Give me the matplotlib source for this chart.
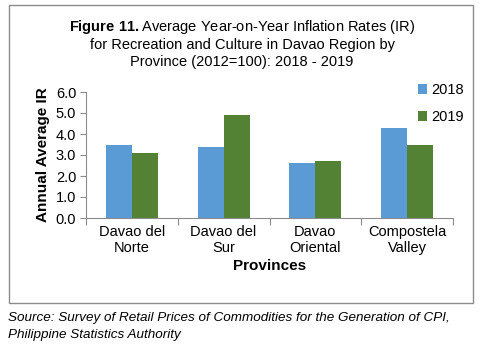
import numpy as np
import matplotlib
matplotlib.use("Agg")
import matplotlib.pyplot as plt
from matplotlib.patches import Rectangle

provinces = ["Davao del\nNorte", "Davao del\nSur", "Davao\nOriental", "Compostela\nValley"]
ir_2018 = [3.5, 3.4, 2.6, 4.3]
ir_2019 = [3.1, 4.9, 2.7, 3.5]
yticks = [0.0, 1.0, 2.0, 3.0, 4.0, 5.0, 6.0]

plt.rcParams['font.family'] = ['Liberation Sans', 'DejaVu Sans']
plt.rcParams['mathtext.fontset'] = 'custom'
plt.rcParams['mathtext.bf'] = 'Liberation Sans:bold'
plt.rcParams['mathtext.rm'] = 'Liberation Sans'

W, H = 484, 344
fig = plt.figure(figsize=(W / 100, H / 100), dpi=100)

# outer frame around the chart
fig.patches.append(Rectangle((9 / W, 1 - 303 / H), 464 / W, 298 / H,
                             transform=fig.transFigure, fill=False,
                             edgecolor="#8c8c8c", linewidth=1.0))

# axes box in pixels: x 86..453, y 92..218
ax = fig.add_axes([86 / W, 1 - 218 / H, 367 / W, 126 / H])

x = np.arange(len(provinces))
bw = 26 / 92
ax.bar(x - bw / 2, ir_2018, bw, color="#5b9bd5", label="2018")
ax.bar(x + bw / 2, ir_2019, bw, color="#548235", label="2019")

ax.set_xlim(-0.5, len(provinces) - 0.5)
ax.set_ylim(0, 6.0)
ax.set_yticks(yticks)
ax.set_yticklabels(["%.1f" % v for v in yticks], fontsize=10.5)
ax.set_xticks(np.arange(-0.5, len(provinces), 1.0))
ax.set_xticklabels([])
ax.set_xticks(x, minor=True)
ax.set_xticklabels(provinces, minor=True, fontsize=10.5)
ax.tick_params(axis="x", which="minor", length=0, pad=5)
ax.tick_params(axis="x", which="major", length=5, color="#8c8c8c", direction="out")
ax.tick_params(axis="y", length=4, color="#8c8c8c", direction="out", pad=3)

for s in ["top", "right"]:
    ax.spines[s].set_visible(False)
for s in ["left", "bottom"]:
    ax.spines[s].set_color("#8c8c8c")

ax.set_ylabel("Annual Average IR", fontsize=11, fontweight="bold", labelpad=4)
ax.set_xlabel("Provinces", fontsize=11, fontweight="bold", labelpad=3)

ax.legend(loc="upper left", bbox_to_anchor=(405 / W, 1 - 70 / H),
          bbox_transform=fig.transFigure, frameon=False, fontsize=10.5,
          handlelength=0.6, handleheight=0.6, handletextpad=0.3,
          labelspacing=0.9)

fig.text(0.5, 1 - 27 / H, r"$\bf{Figure\ 11.}$Average Year-on-Year Inflation Rates (IR)",
         ha="center", va="center", fontsize=10.5)
fig.text(0.5, 1 - 45 / H, "for Recreation and Culture in Davao Region by",
         ha="center", va="center", fontsize=10.5)
fig.text(0.5, 1 - 62 / H, "Province (2012=100): 2018 - 2019",
         ha="center", va="center", fontsize=10.5)

fig.text(8 / W, 1 - 318 / H,
         "Source: Survey of Retail Prices of Commodities for the Generation of CPI,",
         ha="left", va="center", fontsize=9.7, style="italic")
fig.text(8 / W, 1 - 335 / H, "Philippine Statistics Authority",
         ha="left", va="center", fontsize=9.7, style="italic")

fig.savefig("out.png", dpi=100)
